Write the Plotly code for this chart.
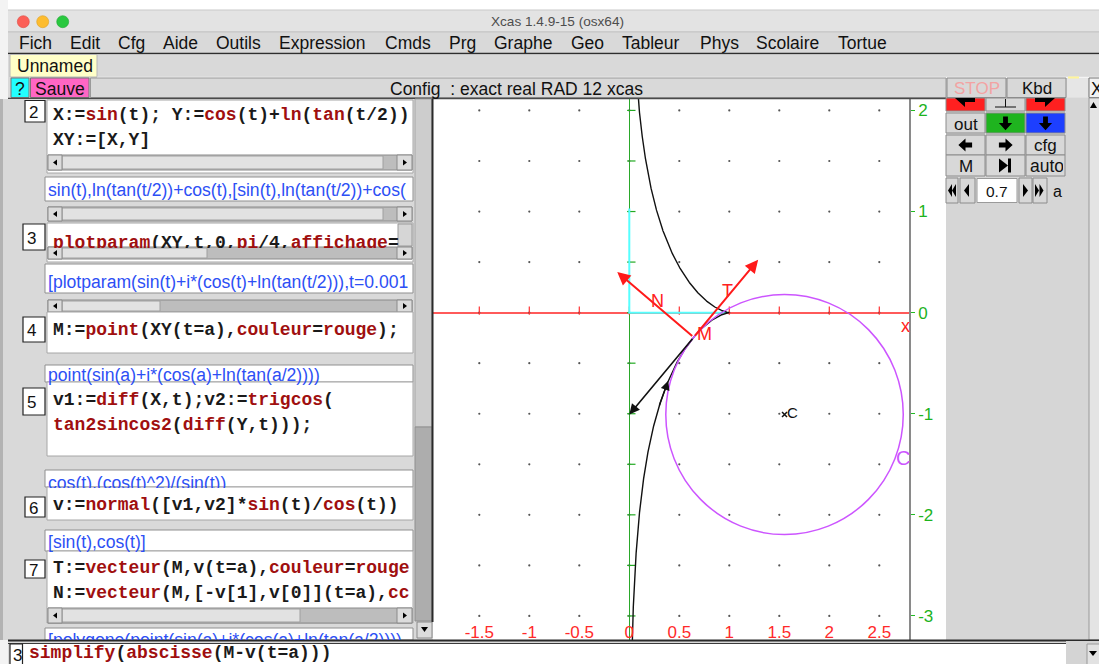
import re
import numpy as np
import plotly.graph_objects as go

W, H = 1099, 664

# ---------------- data ----------------
a = 0.7                                   # slider value of parameter a
t_start, t_end = 0.001, np.pi - 0.001     # plotparam range
t_arrow_tail, t_arrow_head = 0.30, 0.40   # small arrow drawn along the curve

x_ticks = [-1.5, -1, -0.5, 0, 0.5, 1, 1.5, 2, 2.5]
x_tick_labels = ["-1.5", "-1", "-0.5", "0", "0.5", "1", "1.5", "2", "2.5"]
y_ticks = [-3, -2, -1, 0, 1, 2]
y_tick_labels = ["-3", "-2", "-1", "0", "1", "2"]
grid_x = [-1.5, -1, -0.5, 0, 0.5, 1, 1.5, 2, 2.5]
grid_y = [-3, -2.5, -2, -1.5, -1, -0.5, 0, 0.5, 1, 1.5, 2]
x_range = [-1.963, 2.797]
y_range = [-3.238, 2.113]
cyan_x = [0, 0, 0.97]
cyan_y = [1.03, 0, 0]

menu_items = ["Fich", "Edit", "Cfg", "Aide", "Outils", "Expression", "Cmds",
              "Prg", "Graphe", "Geo", "Tableur", "Phys", "Scolaire", "Tortue"]
menu_x = [18, 69, 117, 162, 215, 278, 384, 448, 493, 570, 621, 699, 755, 837]

# ---------------- geometry from the formulas shown ----------------
t = np.linspace(t_start, t_end, 5000)
X = np.sin(t)
Y = np.cos(t) + np.log(np.tan(t / 2))

Mx, My = np.sin(a), np.cos(a) + np.log(np.tan(a / 2))
v = (np.sin(a), np.cos(a))
T_end = (Mx + v[0], My + v[1])
N_end = (Mx - v[1], My + v[0])
B_end = (Mx - v[0], My - v[1])
R = 1 / np.tan(a)
Cx, Cy = Mx + R * np.cos(a), My - R * np.sin(a)

def tr(tt):
    return np.sin(tt), np.cos(tt) + np.log(np.tan(tt / 2))

# ---------------- helpers for the window chrome ----------------
shapes = []
annots = []

def rect(x0, y0, x1, y1, fill, line=None, lw=1, layer="above"):
    shapes.append(dict(type="rect", xref="paper", yref="paper",
                       x0=x0 / W, x1=x1 / W, y0=1 - y1 / H, y1=1 - y0 / H,
                       fillcolor=fill, layer=layer,
                       line=dict(color=line if line else "rgba(0,0,0,0)",
                                 width=lw if line else 0)))

def hline(x0, x1, y, color, w=1):
    shapes.append(dict(type="line", xref="paper", yref="paper",
                       x0=x0 / W, x1=x1 / W, y0=1 - y / H, y1=1 - y / H,
                       line=dict(color=color, width=w)))

def vline(x, y0, y1, color, w=1):
    shapes.append(dict(type="line", xref="paper", yref="paper",
                       x0=x / W, x1=x / W, y0=1 - y0 / H, y1=1 - y1 / H,
                       line=dict(color=color, width=w)))

def circ(cx, cy, r, fill, line):
    shapes.append(dict(type="circle", xref="paper", yref="paper",
                       x0=(cx - r) / W, x1=(cx + r) / W,
                       y0=1 - (cy + r) / H, y1=1 - (cy - r) / H,
                       fillcolor=fill, line=dict(color=line, width=0.6)))

def poly(pts, fill="#000000"):
    d = "M " + " L ".join(f"{x / W:.5f},{1 - y / H:.5f}" for x, y in pts) + " Z"
    shapes.append(dict(type="path", xref="paper", yref="paper", path=d,
                       fillcolor=fill, line=dict(width=0)))

def block_arrow(cx, cy, direction, s=1.0):
    base = [(-6, -2.2), (0, -2.2), (0, -6), (6.5, 0), (0, 6), (0, 2.2), (-6, 2.2)]
    rot = {"right": lambda x, y: (x, y), "left": lambda x, y: (-x, y),
           "down": lambda x, y: (y, x), "up": lambda x, y: (y, -x)}[direction]
    pts = []
    for x, y in base:
        rx, ry = rot(x, y)
        pts.append((cx + rx * s, cy + ry * s))
    poly(pts)

def text(x, y, s, size=17.5, color="#111111", xanchor="left", family="Liberation Sans",
         weight="normal", yanchor="middle", **kw):
    annots.append(dict(xref="paper", yref="paper", x=x / W, y=1 - y / H, text=s,
                       showarrow=False, xanchor=xanchor, yanchor=yanchor,
                       font=dict(size=size, color=color, family=family, weight=weight),
                       borderpad=0, **kw))

KW = {"sin", "cos", "ln", "tan", "pi", "plotparam", "affichage", "point", "couleur",
      "rouge", "diff", "trigcos", "tan2sincos2", "normal", "vecteur", "simplify",
      "abscisse", "cc"}

def colorize(s):
    def rep(m):
        w = m.group(0)
        if w in KW:
            return f'<span style="color:#a00f0f">{w}</span>'
        return w
    return re.sub(r"[A-Za-z_][A-Za-z0-9_]*", rep, s)

def code(x, y, s, **kw):
    text(x, y, colorize(s), size=18, color="#1a1a1a", family="Liberation Mono",
         weight="bold", **kw)

BLUE = "#2d4ff5"
def out(x, y, s, **kw):
    text(x, y, s, size=17.6, color=BLUE, **kw)

def hscroll(y0, y1, light_end, dark_end=397):
    rect(48, y0, 412, y1, "#bdbdbd", "#8a8a8a")
    rect(62, y0 + 1, light_end, y1 - 1, "#e2e2e2", "#a0a0a0")
    rect(48, y0, 62, y1, "#dcdcdc", "#8a8a8a")
    rect(397, y0, 412, y1, "#dcdcdc", "#8a8a8a")
    cy = (y0 + y1) / 2
    poly([(53, cy), (57, cy - 3), (57, cy + 3)])
    poly([(407, cy), (403, cy - 3), (403, cy + 3)])

def numbox(x0, y0, x1, y1, s):
    rect(x0, y0, x1, y1, "#ffffff", "#222222", 1.2)
    text(x0 + 3, (y0 + y1) / 2 + 1, s, size=17, color="#111")

def button(x0, y0, x1, y1, fill="#d8d8d8", label=None, color="#111", size=17):
    rect(x0, y0, x1, y1, fill, "#8c8c8c")
    if label:
        text((x0 + x1) / 2, (y0 + y1) / 2 + 1, label, size=size, color=color,
             xanchor="center")

# ---------------- window chrome ----------------
rect(0, 0, W, 10, "#ffffff")
rect(0, 0, 8, H, "#f3f3f3")
rect(8, 10, W, 32, "#e3e3e3")
hline(8, W, 10, "#c9c9c9")
hline(8, W, 32, "#b2b2b2")
circ(23.3, 21.7, 6, "#fc5f57", "#de4a42")
circ(42.7, 21.7, 6, "#fdbc2e", "#dd9f22")
circ(62.7, 21.7, 6, "#29c83f", "#1ea532")
text(557, 22, "Xcas 1.4.9-15 (osx64)", size=13.6, color="#4d4d4d", xanchor="center")

rect(8, 32.5, W, 53, "#d9d9d9")
for name, mx in zip(menu_items, menu_x):
    text(mx, 43, name, size=17.5)
hline(8, W, 53.5, "#2e2e2e", 1.5)

rect(8, 54.5, W, 77, "#d9d9d9")
rect(10, 54.5, 97, 77, "#ffffc8", "#b8b8b8")
text(16, 66, "Unnamed", size=17.5)
hline(97, W, 77.5, "#f4f4f4", 1.5)

rect(8, 78, W, 98, "#d9d9d9")
rect(11, 78, 29, 97.5, "#22ffff", "#777")
text(20, 88.5, "?", size=17.5, xanchor="center")
rect(30.5, 78, 89, 97.5, "#ff66c4", "#777")
text(60, 88.5, "Sauve", size=17.5, xanchor="center")
rect(90.5, 78, 946, 97.5, "#d9d9d9", "#9a9a9a")
text(516, 88.5, "Config  : exact real RAD 12 xcas", size=17.5, xanchor="center")
button(947, 78, 1006, 97.5, label="STOP", color="#f3a3a3")
button(1007, 78, 1066, 97.5, label="Kbd")
rect(1067, 78, 1088, 97.5, "#e6e6e6")
hline(1068, 1079, 77.5, "#fff59a", 2)
rect(1089, 78, W + 2, 97.5, "#f2f2f2", "#777")
text(1090, 88.5, "X", size=17.5, width=9, align="left")
hline(8, 946, 98.5, "#4a4a4a", 1.5)

# ---------------- left worksheet panel ----------------
rect(0, 99, 3, 640, "#b3b3b3")
rect(3, 99, 432, 640, "#d9d9d9")
rect(415, 99, 432, 427, "#cdcdcd", "#a8a8a8")
rect(415, 427, 432, 621, "#adadad", "#8f8f8f")
rect(417, 622, 432, 638, "#dcdcdc", "#8a8a8a")
poly([(421, 627), (428, 627), (424.5, 632)])

# entry 2
rect(47, 100, 413, 173, "#ffffff", "#a6a6a6")
numbox(25, 100.5, 45, 122, "2")
code(52, 115, "X:=sin(t); Y:=cos(t)+ln(tan(t/2))")
code(52, 140, "XY:=[X,Y]")
hscroll(155, 170, 383)
# output
rect(45, 177, 413, 201, "#ffffff", "#8f8f8f")
out(47, 189.5, "sin(t),ln(tan(t/2))+cos(t),[sin(t),ln(tan(t/2))+cos(")
hscroll(207, 221, 383)
# entry 3
rect(47, 223, 413, 262, "#ffffff", "#a6a6a6")
numbox(23, 224, 45, 250, "3")
code(52, 232, "plotparam(XY,t,0,pi/4,affichage=", yanchor="top", height=15, valign="top")
rect(398, 224, 412, 246, "#d6d6d6", "#9a9a9a")
hscroll(247, 259, 207)
# output
rect(45, 264, 413, 293, "#ffffff", "#8f8f8f")
out(47, 271, "[plotparam(sin(t)+i*(cos(t)+ln(tan(t/2))),t=0.001", yanchor="top")
hscroll(300, 312, 160)
# entry 4
rect(47, 312, 413, 353, "#ffffff", "#a6a6a6")
numbox(23, 317, 45, 342, "4")
code(52, 330, "M:=point(XY(t=a),couleur=rouge);")
# output
rect(45, 365, 413, 382, "#ffffff", "#8f8f8f")
out(47, 374.5, "point(sin(a)+i*(cos(a)+ln(tan(a/2))))")
# entry 5
rect(47, 382, 413, 456, "#ffffff", "#a6a6a6")
numbox(23, 388, 45, 415, "5")
code(52, 400, "v1:=diff(X,t);v2:=trigcos(")
code(52, 425, "tan2sincos2(diff(Y,t)));")
# output
rect(45, 470, 413, 487, "#ffffff", "#8f8f8f")
out(47, 472, "cos(t),(cos(t)^2)/(sin(t))", yanchor="top", height=15, valign="top")
# entry 6
rect(47, 487, 413, 520, "#ffffff", "#a6a6a6")
numbox(25, 497, 45, 517, "6")
code(52, 505, "v:=normal([v1,v2]*sin(t)/cos(t))")
# output
rect(45, 530, 413, 551, "#ffffff", "#8f8f8f")
out(47, 542, "[sin(t),cos(t)]")
# entry 7
rect(47, 551, 413, 623, "#ffffff", "#a6a6a6")
numbox(25, 560, 45, 578, "7")
code(52, 568, "T:=vecteur(M,v(t=a),couleur=rouge")
code(52, 593, "N:=vecteur(M,[-v[1],v[0]](t=a),cc")
hscroll(608, 623, 300)
# output (mostly hidden)
rect(45, 628, 413, 640, "#ffffff", "#8f8f8f")
out(47, 629, "[polygone(point(sin(a)+i*(cos(a)+ln(tan(a/2))))",
    yanchor="top", height=10, valign="top")

# ---------------- graph panel frame ----------------
rect(433, 99, 946, 640, "#ffffff", layer="below")
vline(432.5, 99, 622, "#2a2a2a", 2)

# ---------------- right button panel ----------------
rect(946, 98, W, 640, "#d6d6d6")
rect(1089, 98, W + 2, 640, "#e4e4e4", "#9a9a9a")
poly([(1090, 108), (1097, 108), (1093.5, 102)])
# row 1
button(946, 98, 985, 111, fill="#ff2020")
button(986, 98, 1025, 111)
button(1026, 98, 1065, 111, fill="#ff2020")
poly([(955, 98), (975, 98), (975, 102), (965, 102), (965, 107)])
poly([(1035, 98), (1055, 98), (1045, 107), (1045, 102), (1035, 102)])
vline(1005.5, 99, 107, "#111", 1)
hline(995, 1016, 107, "#111", 1)
# row 2
button(946, 113, 985, 133, label="out")
button(986, 113, 1025, 133, fill="#1fb41f")
block_arrow(1005.5, 123, "down", 1.1)
button(1026, 113, 1065, 133, fill="#1d3fff")
block_arrow(1045.5, 123, "down", 1.1)
# row 3
button(946, 135, 985, 155)
block_arrow(965.5, 145, "left", 1.1)
button(986, 135, 1025, 155)
block_arrow(1005.5, 145, "right", 1.1)
button(1026, 135, 1065, 155, label="cfg")
# row 4
button(946, 155, 985, 176, label="M")
button(986, 155, 1025, 176)
poly([(999, 158.5), (1008, 165.5), (999, 172.5)])
rect(1008, 158.5, 1011, 172.5, "#000000")
button(1026, 155, 1065, 176)
text(1029, 166, "auto", size=17.5, width=33, align="left")
# row 5
button(946, 178, 958, 203)
poly([(948, 190.5), (952, 184), (952, 197)])
poly([(952, 190.5), (956, 184), (956, 197)])
button(960, 178, 975, 203)
poly([(964, 190.5), (969, 184), (969, 197)])
rect(977, 178.5, 1017, 202.5, "#ffffff", "#9a9a9a")
text(997, 191, "0.7", size=15.5, xanchor="center")
button(1019, 178, 1032, 203)
poly([(1028, 190.5), (1023, 184), (1023, 197)])
button(1033, 178, 1047, 203)
poly([(1039, 190.5), (1035, 184), (1035, 197)])
poly([(1043.5, 190.5), (1039.5, 184), (1039.5, 197)])
text(1057, 191, "a", size=16, xanchor="center")

# ---------------- bottom command line ----------------
hline(8, W, 640.5, "#2a2a2a", 2)
hline(8, 1066, 643.5, "#3a3a3a", 1)
rect(10, 644, 1066, H + 2, "#ffffff")
rect(1066, 641, W + 2, H + 2, "#d4d4d4")
rect(1087, 644, W + 2, H + 2, "#e2e2e2", "#9a9a9a")
poly([(1089, 651), (1097, 651), (1093, 656)])
rect(10, 644, 22.5, H + 2, "#ffffff", "#222222", 1.2)
text(12, 655, "3", size=17)
code(28, 664, "simplify(abscisse(M-v(t=a)))", yanchor="bottom")

# ---------------- the graph itself ----------------
fig = go.Figure()

gx = [x for x in grid_x for _ in grid_y]
gy = [y for _ in grid_x for y in grid_y]
fig.add_trace(go.Scatter(x=gx, y=gy, mode="markers",
                         marker=dict(size=2.2, color="#555555"), hoverinfo="skip"))
fig.add_trace(go.Scatter(x=grid_x, y=[0.02] * len(grid_x), mode="markers",
                         marker=dict(symbol="line-ns", size=6,
                                     line=dict(color="#ff3030", width=1.2)),
                         hoverinfo="skip"))
fig.add_trace(go.Scatter(x=[0.02] * len(grid_y), y=grid_y, mode="markers",
                         marker=dict(symbol="line-ew", size=6,
                                     line=dict(color="#22aa22", width=1.2)),
                         hoverinfo="skip"))
fig.add_trace(go.Scatter(x=cyan_x, y=cyan_y, mode="lines",
                         line=dict(color="#55ffff", width=2), hoverinfo="skip"))
fig.add_trace(go.Scatter(x=X, y=Y, mode="lines",
                         line=dict(color="#111111", width=1.4), hoverinfo="skip"))
fig.add_trace(go.Scatter(x=[Cx], y=[Cy], mode="markers",
                         marker=dict(symbol="x-thin", size=5,
                                     line=dict(color="#111", width=1.5)),
                         hoverinfo="skip"))

shapes.append(dict(type="circle", xref="x", yref="y",
                   x0=Cx - R, x1=Cx + R, y0=Cy - R, y1=Cy + R,
                   line=dict(color="#cc55ff", width=1.5)))

def vec(p_end, p_start, color, width):
    annots.append(dict(x=p_end[0], y=p_end[1], ax=p_start[0], ay=p_start[1],
                       xref="x", yref="y", axref="x", ayref="y", text="",
                       showarrow=True, arrowhead=2, arrowsize=1.3,
                       arrowwidth=width, arrowcolor=color, standoff=0))

vec(T_end, (Mx, My), "#ff1a1a", 2)
vec(N_end, (Mx, My), "#ff1a1a", 2)
vec(B_end, (Mx, My), "#111111", 1.6)
vec(tr(t_arrow_head), tr(t_arrow_tail), "#111111", 1.4)

def dlabel(x, y, s, color, size):
    annots.append(dict(x=x, y=y, xref="x", yref="y", text=s, showarrow=False,
                       font=dict(size=size, color=color, family="Liberation Sans")))

dlabel(Mx + 0.333, My + 0.46, "T", "#ff2020", 18)
dlabel(Mx - 0.367, My + 0.361, "N", "#ff2020", 18)
dlabel(Mx + 0.103, My + 0.036, "M", "#ff2020", 18)
dlabel(2.757, -0.128, "x", "#ff2020", 18)
dlabel(Cx + 0.082, Cy + 0.024, "C", "#111111", 15)
dlabel(2.734, -1.438, "C", "#cc55ff", 20)

fig.update_layout(
    width=W, height=H, margin=dict(l=0, r=0, t=0, b=0),
    paper_bgcolor="#d9d9d9", plot_bgcolor="#ffffff", showlegend=False,
    shapes=shapes, annotations=annots,
    xaxis=dict(domain=[433 / W, 909 / W], range=x_range, showgrid=False,
               zeroline=True, zerolinecolor="#2aa82a", zerolinewidth=1,
               tickvals=x_ticks, ticktext=x_tick_labels, ticks="",
               ticklabelposition="inside", ticklabelstandoff=-4,
               tickfont=dict(size=17, color="#ff2a2a", family="Liberation Sans"),
               showline=False, fixedrange=True),
    yaxis=dict(domain=[1 - 640 / H, 1 - 99 / H], range=y_range, showgrid=False,
               side="right", zeroline=True, zerolinecolor="#ff5a5a", zerolinewidth=2,
               tickvals=y_ticks, ticktext=y_tick_labels, ticks="outside",
               ticklen=4, tickcolor="#22bb22", tickwidth=1.2,
               tickfont=dict(size=17, color="#1db31d", family="Liberation Sans"),
               showline=True, linecolor="#8a8a8a", linewidth=1.5, fixedrange=True),
)

fig.write_html(
    "out.html",
    config={"displayModeBar": False},
    post_script="document.body.style.margin='0';document.body.style.overflow='hidden';",
)
